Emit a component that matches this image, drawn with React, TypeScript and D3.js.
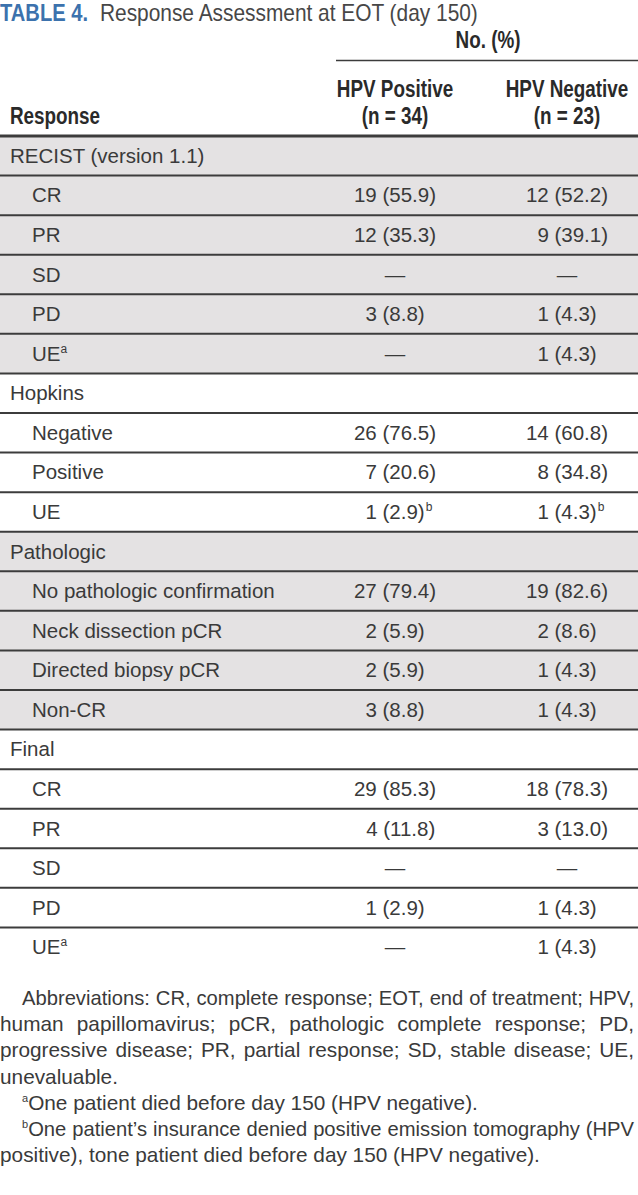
import React, { useEffect, useRef } from "react";
import * as d3 from "d3";

const titleLabel = "TABLE 4.";
const titleText = "Response Assessment at EOT (day 150)";
const spanHeader = "No. (%)";
const responseHeader = "Response";
const groupNames = ["HPV Positive", "HPV Negative"];
const groupSizes = ["(n = 34)", "(n = 23)"];

const sectionNames = ["RECIST (version 1.1)", "Hopkins", "Pathologic", "Final"];
const rowSection = [0, 0, 0, 0, 0, 1, 1, 1, 2, 2, 2, 2, 3, 3, 3, 3, 3];
const rowLabels = [
  "CR", "PR", "SD", "PD", "UE",
  "Negative", "Positive", "UE",
  "No pathologic confirmation", "Neck dissection pCR", "Directed biopsy pCR", "Non-CR",
  "CR", "PR", "SD", "PD", "UE",
];
const labelNotes = ["", "", "", "", "a", "", "", "", "", "", "", "", "", "", "", "", "a"];
const posN = [19, 12, null, 3, null, 26, 7, 1, 27, 2, 2, 3, 29, 4, null, 1, null];
const posPct = [55.9, 35.3, null, 8.8, null, 76.5, 20.6, 2.9, 79.4, 5.9, 5.9, 8.8, 85.3, 11.8, null, 2.9, null];
const posNotes = ["", "", "", "", "", "", "", "b", "", "", "", "", "", "", "", "", ""];
const negN = [12, 9, null, 1, 1, 14, 8, 1, 19, 2, 1, 1, 18, 3, null, 1, 1];
const negPct = [52.2, 39.1, null, 4.3, 4.3, 60.8, 34.8, 4.3, 82.6, 8.6, 4.3, 4.3, 78.3, 13.0, null, 4.3, 4.3];
const negNotes = ["", "", "", "", "", "", "", "b", "", "", "", "", "", "", "", "", ""];

const footLines = [
  { note: "", text: "Abbreviations: CR, complete response; EOT, end of treatment; HPV,", justify: true, indent: true },
  { note: "", text: "human papillomavirus; pCR, pathologic complete response; PD,", justify: true, indent: false },
  { note: "", text: "progressive disease; PR, partial response; SD, stable disease; UE,", justify: true, indent: false },
  { note: "", text: "unevaluable.", justify: false, indent: false },
  { note: "a", text: "One patient died before day 150 (HPV negative).", justify: false, indent: true },
  { note: "b", text: "One patient\u2019s insurance denied positive emission tomography (HPV", justify: true, indent: true },
  { note: "", text: "positive), tone patient died before day 150 (HPV negative).", justify: false, indent: false },
];

const W = 638;
const H = 1195;
const FONT = "'Liberation Sans', Arial, sans-serif";
const TEXT = "#3a3a3a";
const GREY = "#e4e2e3";
const RULE = "#3c3c3c";
const SQ = 0.82;

export default function App() {
  const ref = useRef<SVGSVGElement>(null);

  useEffect(() => {
    const svg = d3.select(ref.current);
    svg.selectAll("*").remove();

    type DRow = { kind: "section" | "item"; sec: number; i: number };
    const drows: DRow[] = [];
    sectionNames.forEach((_, s) => {
      drows.push({ kind: "section", sec: s, i: -1 });
      rowSection.forEach((rs, i) => {
        if (rs === s) drows.push({ kind: "item", sec: s, i });
      });
    });

    const top = 136;
    const bottom = 967;
    const y = d3.scaleBand<number>().domain(d3.range(drows.length)).range([top, bottom]).padding(0);
    const x = d3.scaleOrdinal<number, number>().domain([0, 1]).range([395, 567]);
    const fontSize = 20.5;

    // title
    const tg = svg.append("g").attr("font-family", FONT);
    tg.append("text")
      .attr("transform", `translate(0,21) scale(0.84,1)`)
      .attr("font-weight", "bold").attr("font-size", 24).attr("fill", "#3c72ad").text(titleLabel);
    tg.append("text")
      .attr("transform", `translate(100,21) scale(0.87,1)`)
      .attr("font-size", 24).attr("fill", "#474747").text(titleText);

    // header
    const hdr = svg.append("g").attr("font-family", FONT).attr("font-weight", "bold").attr("font-size", 23).attr("fill", "#2a2a2a");
    const sText = (xx: number, yy: number, anchor: string, s: string) =>
      hdr.append("text").attr("transform", `translate(${xx},${yy}) scale(${SQ},1)`).attr("text-anchor", anchor).text(s);
    sText(488, 48, "middle", spanHeader);
    svg.append("line").attr("x1", 336).attr("x2", W).attr("y1", 60.5).attr("y2", 60.5).attr("stroke", RULE).attr("stroke-width", 1.6);
    sText(10, 124, "start", responseHeader);
    groupNames.forEach((g, k) => {
      sText(x(k), 97, "middle", g);
      sText(x(k), 124, "middle", groupSizes[k]);
    });

    // backgrounds
    const body = svg.append("g");
    drows.forEach((r, j) => {
      if (r.sec % 2 === 0) {
        body.append("rect").attr("x", 0).attr("y", y(j)!).attr("width", W).attr("height", y.bandwidth()).attr("fill", GREY);
      }
    });
    drows.forEach((_, j) => {
      if (j === 0) return;
      body.append("line").attr("x1", 0).attr("x2", W).attr("y1", y(j)!).attr("y2", y(j)!).attr("stroke", RULE).attr("stroke-width", 2);
    });
    svg.append("line").attr("x1", 0).attr("x2", W).attr("y1", top).attr("y2", top).attr("stroke", RULE).attr("stroke-width", 3);

    const txt = svg.append("g").attr("font-family", FONT).attr("font-size", fontSize).attr("fill", TEXT);

    const probe = txt.append("text").text("0");
    const digitW = (probe.node() as SVGTextElement).getComputedTextLength();
    probe.remove();

    drows.forEach((r, j) => {
      const by = y(j)! + y.bandwidth() / 2 + 7;
      if (r.kind === "section") {
        txt.append("text").attr("x", 10).attr("y", by).text(sectionNames[r.sec]);
        return;
      }
      const i = r.i;
      const lt = txt.append("text").attr("x", 32).attr("y", by).text(rowLabels[i]);
      if (labelNotes[i]) lt.append("tspan").attr("font-size", 12).attr("dy", -8).text(labelNotes[i]);

      const cells = [
        { n: posN[i], p: posPct[i], note: posNotes[i] },
        { n: negN[i], p: negPct[i], note: negNotes[i] },
      ];
      cells.forEach((c, k) => {
        const cx = x(k);
        if (c.n === null || c.p === null) {
          txt.append("text").attr("x", cx).attr("y", by).attr("text-anchor", "middle").text("\u2014");
          return;
        }
        const s = `${c.n} (${d3.format(".1f")(c.p)})`;
        const pad = c.n < 10 && c.p >= 10 ? digitW : 0;
        const el = txt.append("text").attr("y", by).text(s);
        const w = (el.node() as SVGTextElement).getComputedTextLength();
        const x0 = cx - (w + pad) / 2 + pad;
        el.attr("x", x0);
        if (c.note) {
          txt.append("text").attr("x", x0 + w + 1).attr("y", by - 8).attr("font-size", 12).text(c.note);
        }
      });
    });

    // footnotes
    const baseFs = 20.8;
    const ft = svg.append("g").attr("font-family", FONT).attr("font-size", baseFs).attr("fill", TEXT);
    footLines.forEach((f, k) => {
      const fy = 1005 + k * 26.2;
      const fx = f.indent ? 22 : 0;
      const el = ft.append("text").attr("x", fx).attr("y", fy);
      if (f.note) el.append("tspan").attr("font-size", 11).attr("dy", -8).text(f.note);
      const main = el.append("tspan").attr("dy", f.note ? 8 : 0).text(f.text);
      if (f.justify) {
        const target = 634 - fx;
        let natural = (el.node() as SVGTextElement).getComputedTextLength();
        if (natural > target) {
          const fs = baseFs * (target - 2) / natural;
          main.attr("font-size", fs);
          natural = (el.node() as SVGTextElement).getComputedTextLength();
        }
        const spaces = (f.text.match(/ /g) || []).length;
        if (natural < target && spaces > 0) {
          main.attr("word-spacing", (target - natural) / spaces);
        }
      }
    });
  }, []);

  return (
    <svg
      ref={ref}
      width={W}
      height={H}
      viewBox={`0 0 ${W} ${H}`}
      style={{ position: "absolute", left: 0, top: 0, background: "#fff" }}
    />
  );
}
